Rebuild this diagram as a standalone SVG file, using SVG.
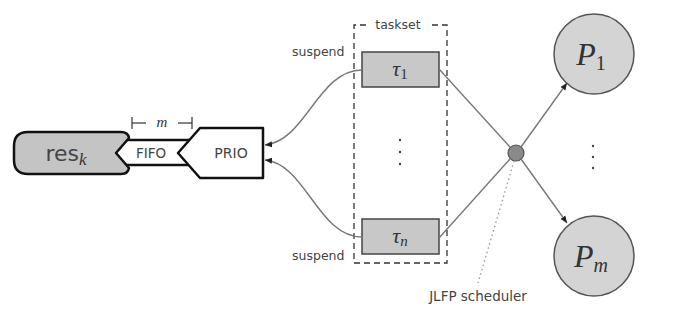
<svg xmlns="http://www.w3.org/2000/svg" width="673" height="321" viewBox="0 0 673 321">
  <style>
    .lbl { font-family: "DejaVu Sans", "Open Sans", sans-serif; fill: #444; }
    .math { font-family: "Liberation Serif", "DejaVu Serif", serif; font-style: italic; fill: #333; }
    .task { fill: #c8c8c8; stroke: #444; stroke-width: 1.5; }
    .proc { fill: #d4d4d4; stroke: #555; stroke-width: 1.5; }
    .edge { fill: none; stroke: #777; stroke-width: 1.4; }
    .queue { stroke: #111; stroke-width: 2.5; stroke-linejoin: round; }
    .dot { fill: #444; }
  </style>
  <defs>
    <marker id="arr" markerWidth="8" markerHeight="8" refX="7" refY="4" orient="auto" markerUnits="userSpaceOnUse">
      <path d="M0,1 L7,4 L0,7 z" fill="#222"/>
    </marker>
  </defs>
  <rect width="673" height="321" fill="#fff"/>

  <!-- resource with FIFO and PRIO queues -->
  <g id="fifo">
    <path fill="#fff" d="M122,140 L190,140 L178,153 L190,165 L122,165 Z"/>
    <line class="queue" x1="124" y1="140" x2="190" y2="140"/>
    <line class="queue" x1="124" y1="165" x2="190" y2="165"/>
    <text class="lbl" x="151" y="158" font-size="13.5" text-anchor="middle">FIFO</text>
  </g>
  <g id="res">
    <path class="queue" fill="#c4c4c4" d="M28,132 L121,132 Q128,132 129,138 L116,153 L129,168 Q128,174 121,174 L28,174 Q14,174 14,160 L14,146 Q14,132 28,132 Z"/>
    <text class="lbl" x="66" y="161" font-size="22" text-anchor="middle" fill="#333">res<tspan class="math" font-size="17" dy="4">k</tspan></text>
  </g>
  <g id="prio">
    <path class="queue" fill="#fff" d="M200,128 L263,128 L263,178 L200,178 L178,153 Z"/>
    <text class="lbl" x="231" y="158" font-size="14" text-anchor="middle">PRIO</text>
  </g>
  <g id="m-span" stroke="#333" stroke-width="1.2">
    <line x1="132" y1="117" x2="132" y2="129"/>
    <line x1="192" y1="117" x2="192" y2="129"/>
    <line x1="132" y1="123" x2="146" y2="123"/>
    <line x1="178" y1="123" x2="192" y2="123"/>
    <text class="math" x="162" y="127" font-size="15" text-anchor="middle" stroke="none">m</text>
  </g>

  <!-- taskset -->
  <g id="taskset">
    <path d="M366,25 L354,25 L354,263 L447,263 L447,25 L431,25" fill="none" stroke="#333" stroke-width="1.3" stroke-dasharray="6,4"/>
    <text class="lbl" x="398" y="29" font-size="12.5" text-anchor="middle">taskset</text>
    <circle class="dot" cx="400" cy="140" r="1.2"/>
    <circle class="dot" cx="400" cy="152" r="1.2"/>
    <circle class="dot" cx="400" cy="164" r="1.2"/>
  </g>
  <g id="tau1">
    <rect class="task" x="362" y="52" width="77" height="35"/>
    <text class="math" x="400" y="76" font-size="22" text-anchor="middle">τ<tspan font-style="normal" font-size="15" dy="3">1</tspan></text>
  </g>
  <g id="taun">
    <rect class="task" x="362" y="219" width="77" height="35"/>
    <text class="math" x="400" y="243" font-size="22" text-anchor="middle">τ<tspan font-size="15" dy="3">n</tspan></text>
  </g>
  <text class="lbl" x="292" y="56" font-size="12.5">suspend</text>
  <text class="lbl" x="292" y="260" font-size="12.5">suspend</text>

  <!-- scheduler -->
  <g id="scheduler">
    <circle cx="516" cy="153" r="8" fill="#8a8a8a" stroke="#555" stroke-width="1.2"/>
    <text class="lbl" x="478" y="301" font-size="13.5" text-anchor="middle">JLFP scheduler</text>
  </g>

  <!-- processors -->
  <g id="p1">
    <circle class="proc" cx="594" cy="54" r="40"/>
    <text class="math" x="591" y="65" font-size="32" text-anchor="middle">P<tspan font-style="normal" font-size="20" dy="5">1</tspan></text>
  </g>
  <g id="pm">
    <circle class="proc" cx="594" cy="256" r="40"/>
    <text class="math" x="591" y="267" font-size="32" text-anchor="middle">P<tspan font-size="20" dy="5">m</tspan></text>
  </g>
  <g id="pdots">
    <circle class="dot" cx="593" cy="146" r="1.2"/>
    <circle class="dot" cx="593" cy="157" r="1.2"/>
    <circle class="dot" cx="593" cy="168" r="1.2"/>
  </g>

  <!-- connectors -->
  <g id="connectors">
    <path class="edge" d="M362,70 C318,70 306,141 265,145" marker-end="url(#arr)"/>
    <path class="edge" d="M362,237 C318,237 306,164 265,160" marker-end="url(#arr)"/>
    <line class="edge" x1="439" y1="69" x2="510" y2="147"/>
    <line class="edge" x1="439" y1="238" x2="510" y2="159"/>
    <line class="edge" x1="521" y1="147" x2="567" y2="83" marker-end="url(#arr)"/>
    <line class="edge" x1="521" y1="159" x2="567" y2="223" marker-end="url(#arr)"/>
    <line x1="514" y1="161" x2="478" y2="283" stroke="#999" stroke-width="1.3" stroke-dasharray="1.5,3"/>
  </g>
</svg>
